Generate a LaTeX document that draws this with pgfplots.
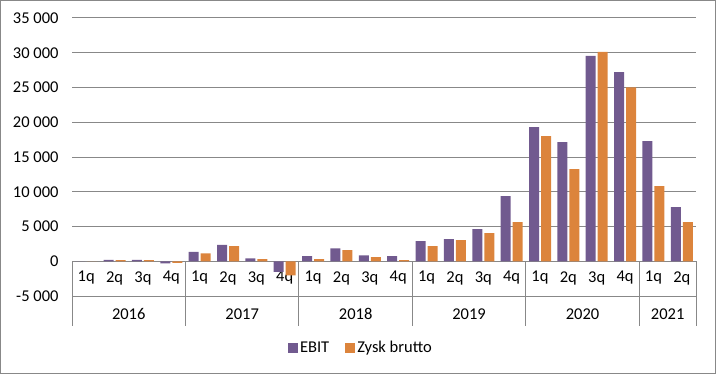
\documentclass[border=0pt]{standalone}
\usepackage{pgfplots}
\pgfplotsset{compat=1.18}
\usepackage{pgfplotstable}
\usepackage{fontspec}
\setmainfont{Carlito}
\definecolor{ebit}{HTML}{715A8F}
\definecolor{zysk}{HTML}{DC843C}
\definecolor{gridc}{HTML}{888888}
\pgfplotstableread{
x ebit zysk
0 0 0
1 200 150
2 200 150
3 -300 -250
4 1340 1150
5 2350 2160
6 430 290
7 -1540 -2020
8 720 290
9 1870 1590
10 860 580
11 720 150
12 2880 2160
13 3170 3030
14 4610 4030
15 9370 5620
16 19310 18010
17 17150 13260
18 29540 30120
19 27230 25030
20 17290 10800
21 7780 5620
}\datatable
\begin{document}
\begin{tikzpicture}[x=1bp,y=1bp]
\useasboundingbox (0,0) rectangle (716,374);
\draw[gridc, line width=1bp] (0.5,0.5) rectangle (715.5,373.5);
\begin{axis}[
  at={(72bp,78bp)}, anchor=south west, scale only axis,
  width=624bp, height=278bp,
  ymin=-5000, ymax=35000, ytick={-5000,0,5000,10000,15000,20000,25000,30000,35000},
  scaled y ticks=false,
  xmin=-0.5, xmax=21.5,
  ybar=2bp, bar width=10bp,
  axis line style={draw=none},
  ymajorgrids, grid style={gridc, line width=1bp},
  major tick length=0pt,
  xtick={0,...,21},
  xticklabels={1q,2q,3q,4q,1q,2q,3q,4q,1q,2q,3q,4q,1q,2q,3q,4q,1q,2q,3q,4q,1q,2q},
  x tick label style={anchor=center, yshift=18bp},
  y tick label style={anchor=east, xshift=-10bp},
  /pgf/number format/assume math mode=true,
  /pgf/number format/fixed,
  /pgf/number format/1000 sep={\ },
  font=\fontsize{16.5bp}{19bp}\selectfont,
  tick label style={font=\fontsize{16.5bp}{19bp}\selectfont},
  clip=false,
  legend style={at={(0.463,-0.187)}, anchor=center, draw=none, fill=none,
    legend columns=2, font=\fontsize{16.5bp}{19bp}\selectfont,
    /tikz/every even column/.append style={column sep=14bp}},
  legend image code/.code={\fill[#1] (0bp,-5bp) rectangle (10bp,5bp);},
]
\addplot[fill=ebit, draw=none] table[x=x, y=ebit] {\datatable};
\addlegendentry{EBIT}
\addplot[fill=zysk, draw=none] table[x=x, y=zysk] {\datatable};
\addlegendentry{Zysk brutto}
\pgfplotsinvokeforeach{-0.5,3.5,7.5,11.5,15.5,19.5,21.5}{
  \draw[gridc, line width=1bp] (axis cs:#1,0) -- (axis cs:#1,-9320);
}
\node[yshift=-18bp] at (axis cs:1.5,-5000) {2016};
\node[yshift=-18bp] at (axis cs:5.5,-5000) {2017};
\node[yshift=-18bp] at (axis cs:9.5,-5000) {2018};
\node[yshift=-18bp] at (axis cs:13.5,-5000) {2019};
\node[yshift=-18bp] at (axis cs:17.5,-5000) {2020};
\node[yshift=-18bp] at (axis cs:20.5,-5000) {2021};
\end{axis}
\end{tikzpicture}
\end{document}
